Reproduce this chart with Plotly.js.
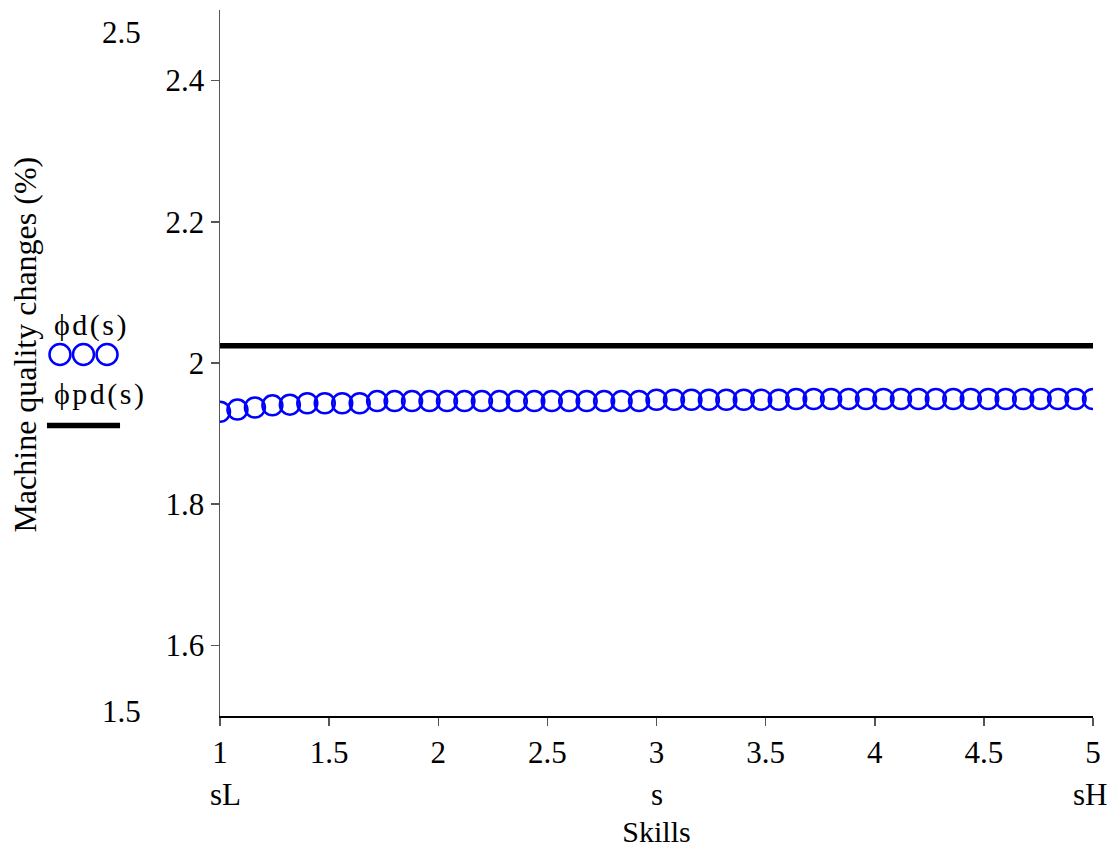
<!DOCTYPE html>
<html>
<head>
<meta charset="utf-8">
<script src="https://cdn.plot.ly/plotly-3.0.1.min.js"></script>
<style>html,body{margin:0;padding:0;background:#fff;}#chart{width:1111px;height:852px;}</style>
</head>
<body>
<div id="chart"></div>
<script>
// Data
var skills = [];
for (var i = 0; i <= 50; i++) { skills.push(Math.round((1 + 0.08 * i) * 100) / 100); }
var phiD = [
  1.931, 1.934, 1.937, 1.940, 1.941, 1.943, 1.943, 1.943, 1.943, 1.946,
  1.946, 1.946, 1.946, 1.946, 1.946, 1.946, 1.946, 1.946, 1.946, 1.946,
  1.946, 1.946, 1.946, 1.946, 1.946, 1.948, 1.948, 1.948, 1.948, 1.948,
  1.948, 1.948, 1.948, 1.949, 1.949, 1.949, 1.949, 1.949, 1.949, 1.949,
  1.949, 1.949, 1.949, 1.949, 1.949, 1.949, 1.949, 1.949, 1.949, 1.949,
  1.949
];
var phiPDx = [1, 5];
var phiPD = [2.0245, 2.0245];
var xTickVals = [1, 1.5, 2, 2.5, 3, 3.5, 4, 4.5, 5];
var xTickText = ['1', '1.5', '2', '2.5', '3', '3.5', '4', '4.5', '5'];
var yTickVals = [1.6, 1.8, 2, 2.2, 2.4];
var yTickText = ['1.6', '1.8', '2', '2.2', '2.4'];
var yEndLabels = ['2.5', '1.5'];
var skillMarks = [1, 3, 5];
var skillMarkText = ['sL', 's', 'sH'];
var seriesNames = ['ϕd(s)', 'ϕpd(s)'];

var FONT = 'Liberation Serif, Times New Roman, serif';
var FS = 31;

function spaced(t) { return t.split('').join('\u200A'); }

var traces = [
  {
    x: skills, y: phiD, type: 'scatter', mode: 'markers', name: seriesNames[0],
    marker: {symbol: 'circle-open', size: 20, color: '#0000ff', line: {width: 2.5, color: '#0000ff'}},
    cliponaxis: true, showlegend: false
  },
  {
    x: phiPDx, y: phiPD, type: 'scatter', mode: 'lines', name: seriesNames[1],
    line: {color: '#000000', width: 5.5},
    cliponaxis: false, showlegend: false
  }
];

var annotations = [];
annotations.push({xref: 'paper', yref: 'paper', x: -0.0882, y: 0.968, xanchor: 'right', yanchor: 'middle',
  text: yEndLabels[0], showarrow: false, font: {family: FONT, size: FS, color: '#000'}});
annotations.push({xref: 'paper', yref: 'paper', x: -0.0882, y: 0.0064, xanchor: 'right', yanchor: 'middle',
  text: yEndLabels[1], showarrow: false, font: {family: FONT, size: FS, color: '#000'}});
for (var k = 0; k < skillMarks.length; k++) {
  annotations.push({xref: 'x', yref: 'paper', x: skillMarks[k], y: -0.111, xanchor: 'center', yanchor: 'middle',
    xshift: (k === 0 ? 5 : (k === 2 ? -3 : 0)),
    text: skillMarkText[k], showarrow: false, font: {family: FONT, size: FS, color: '#000'}});
}
annotations.push({xref: 'paper', yref: 'paper', x: -0.2234, y: 0.526, xanchor: 'center', yanchor: 'middle',
  textangle: -90, text: 'Machine quality changes (%)', showarrow: false, font: {family: FONT, size: 32, color: '#000'}});
annotations.push({xref: 'paper', yref: 'paper', x: -0.1924, y: 0.5545, xanchor: 'left', yanchor: 'middle',
  text: spaced(seriesNames[0]), showarrow: false, font: {family: FONT, size: 30, color: '#000'}});
annotations.push({xref: 'paper', yref: 'paper', x: -0.1924, y: 0.4554, xanchor: 'left', yanchor: 'middle',
  text: spaced(seriesNames[1]), showarrow: false, font: {family: FONT, size: 30, color: '#000'}});

var shapes = [];
var legCircX = [-0.1833, -0.1564, -0.1294];
for (var c = 0; c < legCircX.length; c++) {
  shapes.push({type: 'circle', xref: 'paper', yref: 'paper', xsizemode: 'pixel', ysizemode: 'pixel',
    xanchor: legCircX[c], yanchor: 0.512, x0: -10.5, x1: 10.5, y0: -10.5, y1: 10.5,
    line: {color: '#0000ff', width: 2.5}});
}
shapes.push({type: 'line', xref: 'paper', yref: 'paper', x0: -0.1982, x1: -0.1145, y0: 0.4115, y1: 0.4115,
  line: {color: '#000', width: 5.5}});

var layout = {
  width: 1111, height: 852,
  margin: {l: 220, r: 18, t: 10, b: 136},
  paper_bgcolor: '#fff', plot_bgcolor: '#fff',
  font: {family: FONT, size: FS, color: '#000'},
  showlegend: false,
  xaxis: {
    range: [1, 5], tickvals: xTickVals, ticktext: xTickText,
    showgrid: false, zeroline: false, showline: true, linecolor: '#000', linewidth: 1.5,
    ticks: 'outside', ticklen: 8, tickwidth: 1.5, tickcolor: '#555',
    tickfont: {family: FONT, size: FS, color: '#000'},
    title: {text: 'Skills', font: {family: FONT, size: 30, color: '#000'}, standoff: 52}
  },
  xaxis2: {
    overlaying: 'x', anchor: 'y', side: 'bottom', range: [1, 5], tickvals: xTickVals,
    showticklabels: false, showgrid: false, zeroline: false, showline: false,
    ticks: 'inside', ticklen: 8, tickwidth: 1.5, tickcolor: '#555'
  },
  yaxis: {
    range: [1.5, 2.5], tickvals: yTickVals, ticktext: yTickText,
    showgrid: false, zeroline: false, showline: true, linecolor: '#555', linewidth: 1.5,
    ticks: 'outside', ticklen: 8, tickwidth: 1.5, tickcolor: '#555',
    tickfont: {family: FONT, size: FS, color: '#000'}
  },
  yaxis2: {
    overlaying: 'y', anchor: 'x', side: 'left', range: [1.5, 2.5], tickvals: yTickVals,
    showticklabels: false, showgrid: false, zeroline: false, showline: false,
    ticks: 'inside', ticklen: 8, tickwidth: 1.5, tickcolor: '#555'
  },
  annotations: annotations,
  shapes: shapes
};

Plotly.newPlot('chart', traces, layout, {displayModeBar: false, staticPlot: true});
</script>
</body>
</html>
